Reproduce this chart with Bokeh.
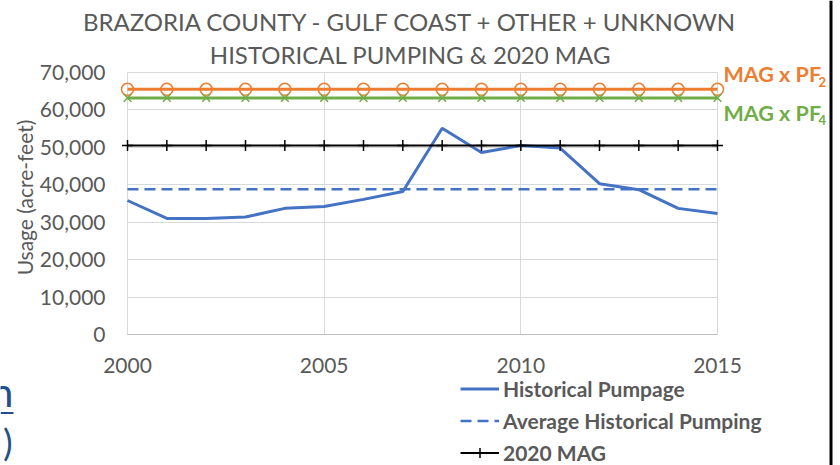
import math
from bokeh.plotting import figure
from bokeh.models import (Legend, LegendItem, Label, BoxAnnotation, Grid,
                          NumeralTickFormatter, FixedTicker, Range1d)
from bokeh.embed import file_html
from bokeh.resources import INLINE

# ---------------- data ----------------
years = [2000, 2001, 2002, 2003, 2004, 2005, 2006, 2007,
         2008, 2009, 2010, 2011, 2012, 2013, 2014, 2015]
historical_pumpage = [35800, 31000, 31000, 31400, 33700, 34200, 36100, 38200,
                      55100, 48600, 50500, 49800, 40300, 38700, 33700, 32300]
average_pumping = [38800, 38800, 38800, 38800, 38800, 38800, 38800, 38800,
                   38800, 38800, 38800, 38800, 38800, 38800, 38800, 38800]
mag_2020 = [50500, 50500, 50500, 50500, 50500, 50500, 50500, 50500,
            50500, 50500, 50500, 50500, 50500, 50500, 50500, 50500]
mag_pf2 = [65500, 65500, 65500, 65500, 65500, 65500, 65500, 65500,
           65500, 65500, 65500, 65500, 65500, 65500, 65500, 65500]
mag_pf4 = [63200, 63200, 63200, 63200, 63200, 63200, 63200, 63200,
           63200, 63200, 63200, 63200, 63200, 63200, 63200, 63200]
x_ticks = [2000, 2005, 2010, 2015]
y_ticks = [0, 10000, 20000, 30000, 40000, 50000, 60000, 70000]
baseline_tick = [0]
x_bounds = (2000, 2015)
y_bounds = (0, 70000)
title_lines = ["BRAZORIA COUNTY - GULF COAST + OTHER + UNKNOWN",
               "HISTORICAL PUMPING & 2020 MAG"]
y_title = "Usage (acre-feet)"
series_names = ["Historical Pumpage", "Average Historical Pumping", "2020 MAG"]
side_labels = ["MAG x PF", "MAG x PF"]
side_subs = ["2", "4"]
edge_fragments = ["n", ")"]

FONT = "Lato"
GRAY = "#595959"
BLUE = "#4472C4"
ORANGE = "#ED7D31"
GREEN = "#70AD47"
LINK = "#24508A"

# The canvas fills the whole 840x465 window.  The data area sits at
# x 127..717, y 72..334.  The frame covers the whole canvas (the axes are
# drawn at fixed locations), so every annotation can sit inside it.
W, H = 840, 465
px_per_year = 590 / 15.0
px_per_unit = 262 / 70000.0
x_start = 2000 - 127 / px_per_year
x_end = x_start + W / px_per_year
y_start = -(H - 334) / px_per_unit
y_end = y_start + H / px_per_unit


def dx(px):          # canvas x -> data x
    return 2000 + (px - 127) / px_per_year


def dy(py):          # canvas y -> data y
    return (334 - py) / px_per_unit


p = figure(width=W, height=H, output_backend="svg", toolbar_location=None,
           x_range=Range1d(x_start, x_end), y_range=Range1d(y_start, y_end),
           min_border=0, min_border_left=0, min_border_right=0,
           min_border_top=0, min_border_bottom=0)
p.outline_line_color = None
p.background_fill_color = "white"
p.border_fill_color = "white"

# grids
p.xgrid.ticker = FixedTicker(ticks=x_ticks)
p.ygrid.ticker = FixedTicker(ticks=y_ticks)
p.xgrid.cross_bounds = y_bounds
p.ygrid.cross_bounds = x_bounds
p.xgrid.grid_line_color = "#D9D9D9"
p.ygrid.grid_line_color = "#D9D9D9"
p.add_layout(Grid(dimension=1, ticker=FixedTicker(ticks=baseline_tick),
                  cross_bounds=x_bounds, grid_line_color="#BFBFBF"))

# axes (drawn at fixed locations; negative standoffs keep their panels empty)
SX, SY = -40, -90
p.xaxis.ticker = FixedTicker(ticks=x_ticks)
p.yaxis.ticker = FixedTicker(ticks=y_ticks)
p.yaxis.formatter = NumeralTickFormatter(format="0,0")
for ax in (p.xaxis[0], p.yaxis[0]):
    ax.axis_line_color = None
    ax.major_tick_line_color = None
    ax.minor_tick_line_color = None
    ax.major_tick_out = 0
    ax.major_tick_in = 0
    ax.minor_tick_out = 0
    ax.minor_tick_in = 0
    ax.major_label_text_font = FONT
    ax.major_label_text_font_size = "21px"
    ax.major_label_text_color = GRAY
p.xaxis.major_label_standoff = SX
p.xaxis.fixed_location = dy(357 - SX)
p.yaxis.major_label_standoff = SY
p.yaxis.fixed_location = dx(105 + SY)

# series
r_hist = p.line(years, historical_pumpage, line_color=BLUE, line_width=3)
r_avg = p.line(years, average_pumping, line_color=BLUE, line_width=2.5,
               line_dash="11 6")
r_mag = p.line(years, mag_2020, line_color="black", line_width=2)
r_mag_pts = p.scatter(years, mag_2020, marker="cross", size=11,
                      line_color="black", line_width=1.5)
p.line(years, mag_pf2, line_color=ORANGE, line_width=3)
p.scatter(years, mag_pf2, marker="circle", size=12, line_color=ORANGE,
          fill_color=None, line_width=1.5)
p.line(years, mag_pf4, line_color=GREEN, line_width=3)
p.scatter(years, mag_pf4, marker="x", size=11, line_color=GREEN,
          line_width=1.5)

# legend (screen units from the frame's bottom-left corner = canvas corner)
legend = Legend(items=[LegendItem(label=series_names[0], renderers=[r_hist]),
                       LegendItem(label=series_names[1], renderers=[r_avg]),
                       LegendItem(label=series_names[2], renderers=[r_mag, r_mag_pts])],
                location=(460, 0), orientation="vertical",
                border_line_color=None, background_fill_alpha=0,
                padding=0, margin=0, spacing=7,
                glyph_width=39, glyph_height=25, label_height=25,
                label_standoff=4, label_text_font=FONT,
                label_text_font_style="bold", label_text_font_size="21px",
                label_text_color=GRAY)
p.add_layout(legend)


def label(text, px, py, **kw):
    p.add_layout(Label(text=text, x=dx(px), y=dy(py), text_font=FONT,
                       text_baseline="middle", **kw))


# title
label(title_lines[0], 410, 20.5, text_align="center",
      text_font_size="24px", text_color=GRAY)
label(title_lines[1], 410, 54, text_align="center",
      text_font_size="24px", text_color=GRAY)

# y axis title
label(y_title, 24, 197, text_align="center", angle=math.pi / 2,
      text_font_size="21px", text_color=GRAY)

# side labels
label(side_labels[0], 723, 73.5, text_align="left",
      text_font_size="21.5px", text_font_style="bold", text_color=ORANGE)
label(side_subs[0], 818, 81, text_align="left",
      text_font_size="13px", text_font_style="bold", text_color=ORANGE)
label(side_labels[1], 723, 112.5, text_align="left",
      text_font_size="21.5px", text_font_style="bold", text_color=GREEN)
label(side_subs[1], 818, 119.5, text_align="left",
      text_font_size="13px", text_font_style="bold", text_color=GREEN)

# fragments of neighbouring content at the left edge of the screenshot
label(edge_fragments[0], 13, 391, text_align="right",
      text_font_size="41px", text_color=LINK)
label(edge_fragments[1], 12, 441, text_align="right",
      text_font_size="36px", text_color=LINK)
p.add_layout(BoxAnnotation(left=dx(0), right=dx(13), top=dy(411.5), bottom=dy(413.5),
                           fill_color=LINK, fill_alpha=1, line_color=None))

# dark bar at the right edge of the screenshot
p.add_layout(BoxAnnotation(left=dx(829), right=dx(832), top=dy(0), bottom=dy(465),
                           fill_color="black", fill_alpha=1, line_color=None))

open("out.html", "w").write(file_html(p, INLINE))
